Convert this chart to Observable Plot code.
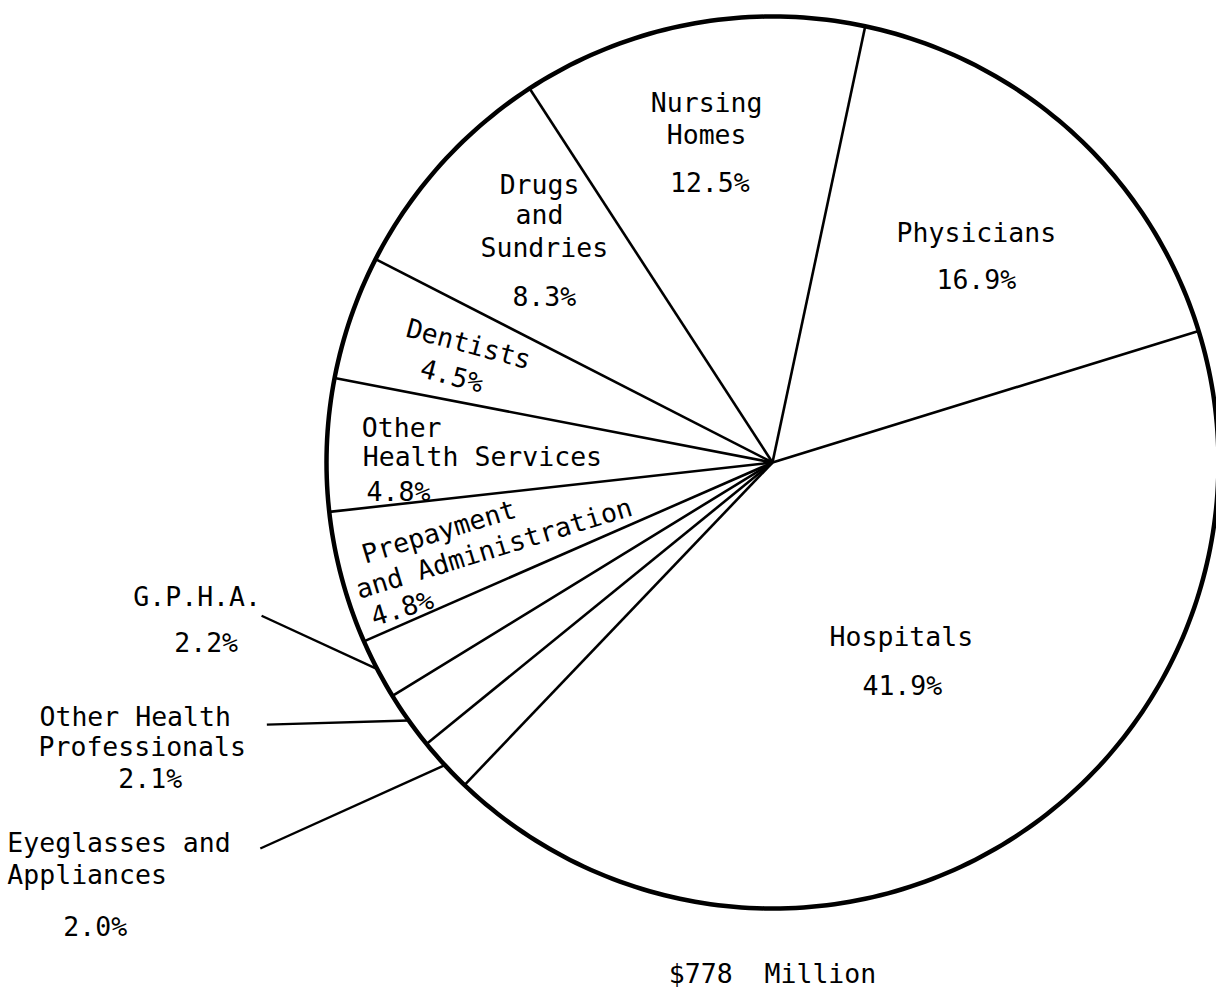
<!DOCTYPE html>
<html>
<head>
<meta charset="utf-8">
<script src="https://cdn.jsdelivr.net/npm/d3@7"></script>
<script src="https://cdn.jsdelivr.net/npm/@observablehq/plot@0.6"></script>
<style>
  body { margin: 0; background: #fff; }
  svg text { white-space: pre; }
</style>
</head>
<body>
<div id="chart"></div>
<script>
// ---- data (clockwise from the Nursing/Physicians boundary) ----
const categories = ["Physicians", "Hospitals", "Eyeglasses and Appliances", "Other Health Professionals", "G.P.H.A.", "Prepayment and Administration", "Other Health Services", "Dentists", "Drugs and Sundries", "Nursing Homes"];
const shares = [16.9, 41.9, 2.0, 2.1, 2.2, 4.8, 4.8, 4.5, 8.3, 12.5];
const pctLabels = ["16.9%", "41.9%", "2.0%", "2.1%", "2.2%", "4.8%", "4.8%", "4.5%", "8.3%", "12.5%"];
const labelLines = [["Physicians"], ["Hospitals"], ["Eyeglasses and", "Appliances"], ["Other Health", "Professionals"], ["G.P.H.A."], ["Prepayment", "and Administration"], ["Other", "Health Services"], ["Dentists"], ["Drugs", "and", "Sundries"], ["Nursing", "Homes"]];
const outsideLabels = ["Eyeglasses and Appliances", "Other Health Professionals", "G.P.H.A."];
const totalLabel = "$778  Million";

// ---- layout ----
const W = 1216, H = 991, CX = 772, CY = 462, R = 446, START = 12.0;
const FONT = "DejaVu Sans Mono", FS = 26.5, CHAR = 16, LINE = 32;
// a: angle (deg, clockwise from top), k: radius fraction, rot: rotation, lines: [dx chars, dy lines]
const labelLayout = [
  {a: 41.7, k: 0.687, rot: 0, anchor: "middle", lines: [[0, 0], [0, 1.47]]},
  {a: 143.6, k: 0.487, rot: 0, anchor: "middle", lines: [[0, 0], [0.06, 1.53]]},
  {a: 243.5, k: 1.917, rot: 0, anchor: "start", lines: [[0, 0], [0, 1], [3.5, 2.6]]},
  {a: 248.2, k: 1.539, rot: 0, anchor: "middle", lines: [[0, 0], [0.44, 0.94], [0.94, 1.94]]},
  {a: 256.8, k: 1.325, rot: 0, anchor: "middle", lines: [[0, 0], [0.56, 1.44]]},
  {a: 257.2, k: 0.942, rot: -17, anchor: "start", lines: [[0, 0], [-1, 1], [-0.6, 1.95]]},
  {a: 274.7, k: 0.924, rot: 0, anchor: "start", lines: [[0, 0], [0.06, 0.9], [0.3, 2.0]]},
  {a: 291.2, k: 0.731, rot: 15, anchor: "middle", lines: [[0, 0], [-0.5, 1.1]]},
  {a: 319.9, k: 0.811, rot: 0, anchor: "middle", lines: [[0, 0], [0, 0.94], [0.3, 1.97], [0.3, 3.5]]},
  {a: 349.6, k: 0.818, rot: 0, anchor: "middle", lines: [[0, 0], [0, 1], [0.2, 2.5]]}
];
const leaderStart = {"Eyeglasses and Appliances": [233, 1.438], "Other Health Professionals": [242.6, 1.277], "G.P.H.A.": [253.3, 1.196]};

const rad = d => d * Math.PI / 180;
const polar = (a, rho) => [CX + rho * Math.sin(a), CY - rho * Math.cos(a)];

const arcs = d3.pie().sort(null).startAngle(rad(START)).endAngle(rad(START) + 2 * Math.PI)(shares);
const slices = categories.map((name, i) => ({name, share: shares[i], pct: pctLabels[i], a0: arcs[i].startAngle, a1: arcs[i].endAngle}));

const rim = d3.range(0, 361, 1).map(d => { const [x, y] = polar(rad(d), R); return {x, y}; });

const rows = [];
slices.forEach((s, i) => {
  const L = labelLayout[i];
  const lines = [...labelLines[i], s.pct];
  const [ax, ay] = polar(rad(L.a), L.k * R);
  const th = rad(L.rot);
  lines.forEach((t, j) => {
    const ox = L.lines[j][0] * CHAR, oy = L.lines[j][1] * LINE;
    rows.push({text: t, anchor: L.anchor, rot: L.rot,
      x: ax + ox * Math.cos(th) - oy * Math.sin(th),
      y: ay + ox * Math.sin(th) + oy * Math.cos(th)});
  });
});

const leaders = slices.filter(s => outsideLabels.includes(s.name)).map(s => {
  const [a, k] = leaderStart[s.name];
  const [x1, y1] = polar(rad(a), k * R);
  const [x2, y2] = polar((s.a0 + s.a1) / 2, R);
  return {x1, y1, x2, y2};
});

const textOpts = {x: "x", y: "y", text: "text", rotate: "rot", lineAnchor: "middle", fontSize: FS, fontFamily: FONT, fill: "black"};

const chart = Plot.plot({
  width: W, height: H, margin: 0,
  x: {domain: [0, W], range: [0, W], axis: null},
  y: {domain: [0, H], range: [0, H], axis: null},
  style: {background: "white"},
  marks: [
    Plot.link(slices, {x1: () => CX, y1: () => CY, x2: d => polar(d.a0, R)[0], y2: d => polar(d.a0, R)[1], stroke: "black", strokeWidth: 2.6}),
    Plot.line(rim, {x: "x", y: "y", stroke: "black", strokeWidth: 4.5, curve: "linear-closed"}),
    Plot.link(leaders, {x1: "x1", y1: "y1", x2: "x2", y2: "y2", stroke: "black", strokeWidth: 2.4}),
    Plot.text(rows.filter(r => r.anchor === "middle"), {...textOpts, textAnchor: "middle"}),
    Plot.text(rows.filter(r => r.anchor === "start"), {...textOpts, textAnchor: "start"}),
    Plot.text([totalLabel], {x: () => CX, y: () => CY + 1.147 * R, text: d => d, fontSize: FS, fontFamily: FONT, fill: "black", lineAnchor: "middle", textAnchor: "middle"})
  ]
});
document.getElementById("chart").appendChild(chart);
</script>
</body>
</html>
